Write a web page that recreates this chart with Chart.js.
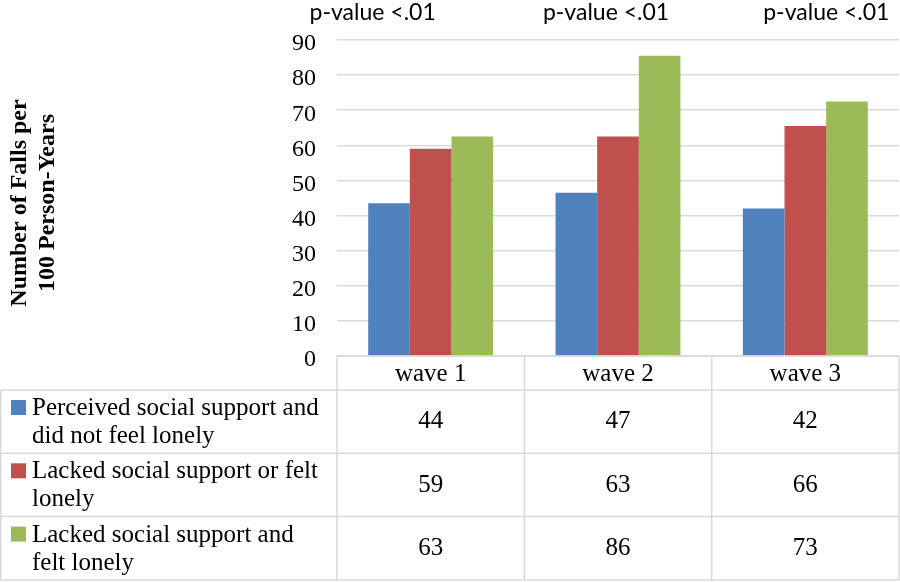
<!DOCTYPE html>
<html>
<head>
<meta charset="utf-8">
<script src="https://cdn.jsdelivr.net/npm/chart.js@4.4.1/dist/chart.umd.min.js"></script>
<style>
  html, body { margin: 0; padding: 0; background: #ffffff; }
  #wrap { width: 900px; height: 582px; }
</style>
</head>
<body>
<div id="wrap"><canvas id="c" width="900" height="582"></canvas></div>
<script>
// ---- data ----
const categories = ['wave 1', 'wave 2', 'wave 3'];
const seriesNames = [
  ['Perceived social support and', 'did not feel lonely'],
  ['Lacked social support or felt', 'lonely'],
  ['Lacked social support and', 'felt lonely']
];
const supportNotLonely = [43.5, 46.5, 42.0];
const lackedOrLonely = [59.0, 62.5, 65.5];
const lackedAndLonely = [62.5, 85.5, 72.5];
const yTicks = [0, 10, 20, 30, 40, 50, 60, 70, 80, 90];
const pValueLabels = ['p-value <.01', 'p-value <.01', 'p-value <.01'];
const yTitle = ['Number of Falls per', '100 Person-Years'];

const colors = ['#4F81BD', '#C0504D', '#9BBB59'];
const seriesValues = [supportNotLonely, lackedOrLonely, lackedAndLonely];

const SERIF = "'Liberation Serif', 'Times New Roman', serif";
const SANS = "Lato, 'Open Sans', sans-serif";
const BORDER = '#d9d9d9';
Chart.defaults.font.family = SERIF;
Chart.defaults.font.size = 24;
Chart.defaults.color = '#000';

const pOffsets = [-58, -12, 21];

const tablePlugin = {
  id: 'tablePlugin',
  afterDraw(chart) {
    const ctx = chart.ctx;
    const xs = chart.scales.x;
    const ys = chart.scales.y;
    const ca = chart.chartArea;
    const n = categories.length;
    const cw = (ca.right - ca.left) / n;
    const headerTop = ca.bottom;
    const headerH = 34;
    const rowH = 63.3;
    const rowsTop = headerTop + headerH;
    const tableBottom = rowsTop + rowH * seriesNames.length;

    ctx.save();
    // y-axis tick labels, positioned by the library's y scale
    ctx.fillStyle = '#000';
    ctx.font = 'normal 24px ' + SERIF;
    ctx.textAlign = 'right';
    ctx.textBaseline = 'middle';
    ys.ticks.forEach(t => {
      ctx.fillText(String(t.value), ca.left - 21, ys.getPixelForValue(t.value) + 4);
    });

    // table grid
    ctx.strokeStyle = BORDER;
    ctx.lineWidth = 1.5;
    ctx.beginPath();
    ctx.moveTo(ca.left, headerTop); ctx.lineTo(ca.right, headerTop);
    for (let r = 0; r <= seriesNames.length; r++) {
      const y = rowsTop + r * rowH;
      ctx.moveTo(0.75, y); ctx.lineTo(ca.right, y);
    }
    for (let i = 0; i <= n; i++) {
      const x = ca.left + i * cw;
      ctx.moveTo(x, headerTop); ctx.lineTo(x, tableBottom);
    }
    ctx.moveTo(0.75, rowsTop); ctx.lineTo(0.75, tableBottom);
    ctx.stroke();

    ctx.font = 'normal 25px ' + SERIF;
    ctx.textAlign = 'center';
    ctx.textBaseline = 'middle';
    categories.forEach((c, i) => {
      ctx.fillText(c, xs.getPixelForValue(i), headerTop + headerH / 2 + 1);
    });
    seriesNames.forEach((lines, r) => {
      const top = rowsTop + r * rowH;
      ctx.fillStyle = colors[r];
      ctx.fillRect(11, top + 10, 15, 15);
      ctx.fillStyle = '#000';
      ctx.textAlign = 'left';
      ctx.textBaseline = 'alphabetic';
      lines.forEach((t, k) => {
        ctx.fillText(t, 32, top + 25 + k * 28);
      });
      ctx.textAlign = 'center';
      ctx.textBaseline = 'middle';
      seriesValues[r].forEach((v, i) => {
        ctx.fillText(String(Math.round(v)), xs.getPixelForValue(i), top + rowH / 2);
      });
    });

    ctx.font = 'normal 23px ' + SANS;
    ctx.textAlign = 'center';
    ctx.textBaseline = 'alphabetic';
    pValueLabels.forEach((t, i) => {
      ctx.fillText(t, xs.getPixelForValue(i) + pOffsets[i], 20);
    });

    ctx.font = 'bold 24px ' + SERIF;
    ctx.textBaseline = 'middle';
    const tx = [20, 48];
    yTitle.forEach((t, k) => {
      ctx.save();
      ctx.translate(tx[k], 203);
      ctx.rotate(-Math.PI / 2);
      ctx.fillText(t, 0, 0);
      ctx.restore();
    });
    ctx.restore();
  }
};

new Chart(document.getElementById('c'), {
  type: 'bar',
  data: {
    labels: categories,
    datasets: seriesValues.map((vals, i) => ({
      data: vals,
      backgroundColor: colors[i],
      borderWidth: 0,
      categoryPercentage: 0.667,
      barPercentage: 1
    }))
  },
  options: {
    responsive: false, devicePixelRatio: 1, animation: false,
    layout: { padding: { top: 40, bottom: 226, left: 0, right: 1 } },
    plugins: { legend: { display: false }, tooltip: { enabled: false } },
    scales: {
      x: { display: false },
      y: {
        min: yTicks[0],
        max: yTicks[yTicks.length - 1],
        afterFit: (s) => { s.width = 337; },
        ticks: { display: false, stepSize: yTicks[1] - yTicks[0] },
        grid: { color: BORDER, lineWidth: 1.5, drawTicks: false },
        border: { display: false }
      }
    }
  },
  plugins: [tablePlugin]
});
</script>
</body>
</html>
